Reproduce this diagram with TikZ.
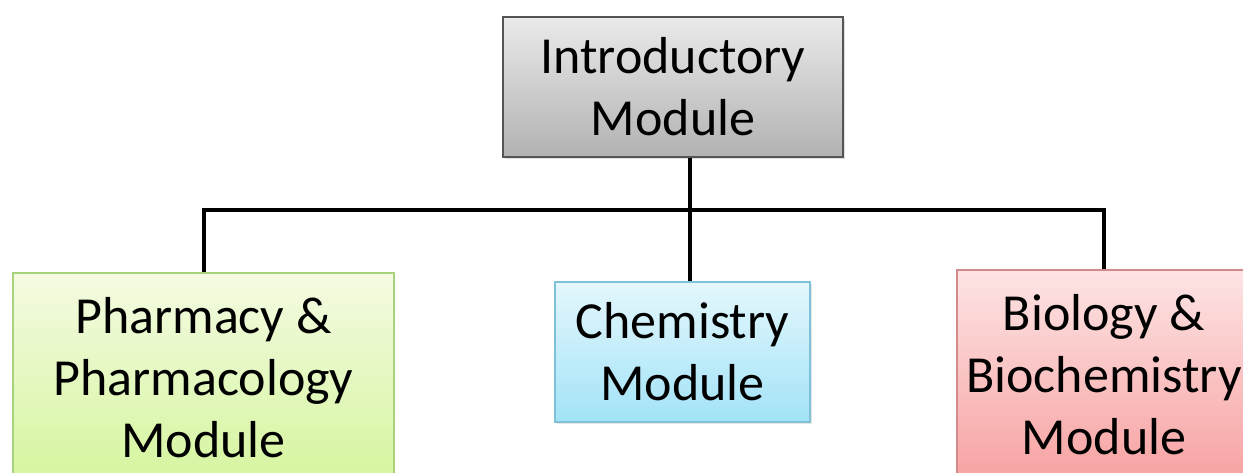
\documentclass[tikz,border=0pt]{standalone}
\usepackage{fontspec}
\setmainfont{Carlito}
\usetikzlibrary{shadows}
\definecolor{grayT}{HTML}{EAEAEA}
\definecolor{grayB}{HTML}{B2B2B2}
\definecolor{grayD}{HTML}{555555}
\definecolor{greenT}{HTML}{F4FBE2}
\definecolor{greenB}{HTML}{D5F59E}
\definecolor{greenD}{HTML}{A9D27F}
\definecolor{blueT}{HTML}{E4F7FD}
\definecolor{blueB}{HTML}{A2E3F7}
\definecolor{blueD}{HTML}{7FC1D8}
\definecolor{redT}{HTML}{FDE4E4}
\definecolor{redB}{HTML}{F7A2A2}
\definecolor{redD}{HTML}{D38A8A}
\tikzset{
  modbox/.style={rectangle, align=center, inner sep=0pt,
    font=\fontsize{52}{62}\selectfont, line width=1.2pt},
  link/.style={line width=4pt, draw=black}
}
\begin{document}
\begin{tikzpicture}[x=1pt,y=-1pt]
\useasboundingbox (0,0) rectangle (1243,473);
\node[modbox, draw=grayD, top color=grayT, bottom color=grayB,
  drop shadow={opacity=0.25,shadow xshift=2pt,shadow yshift=-2pt},
  minimum width=340pt, minimum height=140pt] (intro) at (673,87)
  {Introductory\\Module};
\node[modbox, draw=greenD, top color=greenT, bottom color=greenB,
  minimum width=381pt, minimum height=210pt] (pharm) at (203.5,378)
  {Pharmacy \&\\Pharmacology\\Module};
\node[modbox, draw=blueD, top color=blueT, bottom color=blueB,
  drop shadow={opacity=0.2,shadow xshift=2pt,shadow yshift=-2pt},
  minimum width=255pt, minimum height=140pt] (chem) at (682.5,352)
  {Chemistry\\Module};
\node[modbox, draw=redD, top color=redT, bottom color=redB,
  minimum width=294pt, minimum height=210pt] (bio) at (1104,375)
  {Biology \&\\Biochemistry\\Module};
\coordinate (j) at (690,210);
\draw[link] (pharm.north) |- (j) -| (bio.north);
\draw[link] (intro.south -| j) -- (chem.north -| j);
\end{tikzpicture}
\end{document}
